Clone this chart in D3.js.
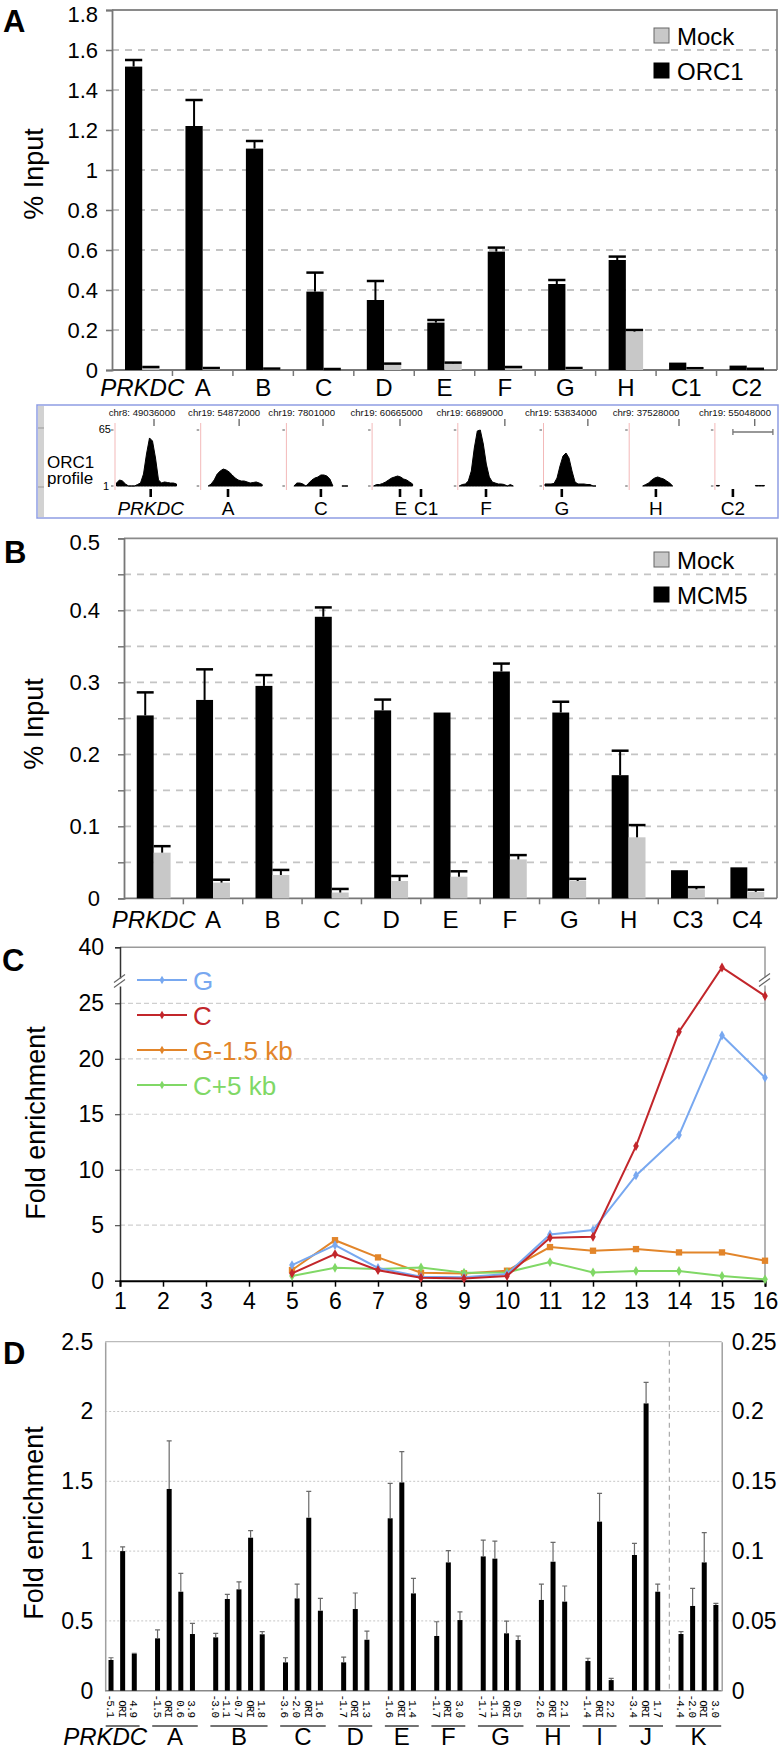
<!DOCTYPE html>
<html><head><meta charset="utf-8">
<script src="https://cdn.jsdelivr.net/npm/d3@7"></script>
<style>
body{margin:0;background:#fff}
svg{display:block}
text{font-family:"Liberation Sans",Arial,Helvetica,sans-serif}
</style></head>
<body><svg id="c" width="781" height="1757"></svg>
<script>
// ================= DATA =================
// Panel A (ORC1 ChIP, % input)
const catsA = ["PRKDC","A","B","C","D","E","F","G","H","C1","C2"];
const orc1A = [1.517,1.22,1.107,0.392,0.35,0.237,0.592,0.43,0.55,0.037,0.022];
const orc1ErrA = [0.033,0.13,0.038,0.095,0.095,0.013,0.02,0.02,0.017,0,0];
const mockA = [0.013,0.008,0.005,0.003,0.03,0.033,0.013,0.008,0.192,0.008,0.005];
const mockErrA = [0.002,0.002,0.002,0.002,0.002,0.004,0.002,0.002,0.008,0.001,0.001];
const yTicksA = [0,0.2,0.4,0.6,0.8,1,1.2,1.4,1.6,1.8];

// Genome browser strip (ORC1 profile, signal 1–65)
const stripRegions = ["chr8: 49036000","chr19: 54872000","chr19: 7801000","chr19: 60665000","chr19: 6689000","chr19: 53834000","chr9: 37528000","chr19: 55048000"];
const stripHeaderTick = [12.5,12.3,11.7,8.8,15.2,14.3,16.1,12.8];
const stripHeaderLabel = [8.5,7.3,4.6,4.3,3.5,5.3,5.1,6.2];
const stripProfiles = [
  [4.4,7.9,6.7,3.3,1,1,1,2.7,4.4,14.7,37.6,55.9,52.4,33,7.9,4.4,5.6,5,4.4,4.4,3.3],
  [null,null,1,3.3,7.9,14.7,18.1,20.4,19.3,17,13.6,10.1,7.9,6.7,6.7,5.6,4.4,5,5.6,4.4,2.7],
  [null,null,1,4.4,4.4,3.3,1,4.4,7.9,10.1,11.3,13.6,13.6,12.4,9,1,null,null,1,1,1],
  [1,2.7,2.7,3.9,5.6,7.9,10.1,11.3,12.4,11.3,9,7.9,5.6,3.3,null,null,null,null,1],
  [1,2.7,3.3,6.7,18.1,44.4,63.9,65,49,26.1,11.3,5.6,4.4,3.3,3.3,2.7,1,2.7,1],
  [3.3,3.3,3.3,3.9,10.1,23.9,35.3,38.7,33,18.1,5.6,3.3,3.3,3.3,2.7,2.7,1,1],
  [null,null,null,null,1,2.7,4.4,7.9,10.1,11.3,10.1,9,6.7,4.4,1],
  [1.6,1.6,null,null,null,null,null,null,null,null,null,null,null,1.6,1.6,1.6,1.6]
];
const stripGenes = ["PRKDC","A","C","E","C1","F","G","H","C2"];
const stripGeneRegion = [0,1,2,3,3,4,5,6,7];
const stripGenePos = [11.4,8.6,11.0,8.8,15.8,8.9,5.6,8.4,5.5];
const stripGeneLabelPos = [11.4,8.6,11.0,9.1,17.5,8.9,5.6,8.4,5.5];

// Panel B (MCM5 ChIP, % input)
const catsB = ["PRKDC","A","B","C","D","E","F","G","H","C3","C4"];
const mcm5B = [0.254,0.2755,0.295,0.391,0.261,0.258,0.315,0.258,0.171,0.039,0.043];
const mcm5ErrB = [0.032,0.0425,0.015,0.013,0.015,0,0.011,0.015,0.034,0,0];
const mockB = [0.0634,0.0218,0.0324,0.008,0.024,0.030,0.054,0.024,0.0847,0.0125,0.009];
const mockErrB = [0.009,0.004,0.007,0.005,0.007,0.0075,0.006,0.003,0.017,0.003,0.003];
const yTicksB = [0,0.05,0.1,0.15,0.2,0.25,0.3,0.35,0.4,0.45,0.5];

// Panel C (fold enrichment, lines)
const xLabelsC = ["1","2","3","4","5","6","7","8","9","10","11","12","13","14","15","16"];
const seriesNamesC = ["G","C","G-1.5 kb","C+5 kb"];
const valsG   = [null,null,null,null,1.41,3.2,1.15,0.35,0.3,0.6,4.17,4.56,9.49,13.12,22.1,18.3];
const valsC   = [null,null,null,null,0.66,2.4,0.95,0.27,0.2,0.42,3.87,3.96,12.13,22.43,34.6,26.96];
const valsG15 = [null,null,null,null,0.96,3.65,2.1,0.72,0.66,0.9,3.03,2.7,2.85,2.55,2.55,1.8];
const valsC5  = [null,null,null,null,0.42,1.17,1.05,1.2,0.72,0.75,1.68,0.75,0.87,0.87,0.42,0.12];
const yTicksC = [0,5,10,15,20,25,40];

// Panel D (fold enrichment, grouped bars)
const groupsD = ["PRKDC","A","B","C","D","E","F","G","H","I","J","K"];
const primersD = [["-5.1","ORI","4.9"],["-1.5","ORI","0.6","3.9"],["-3.0","-1.1","-0.7","ORI","1.8"],["-3.6","-2.0","ORI","1.6"],["-1.7","ORI","1.3"],["-1.6","ORI","1.4"],["-1.7","ORI","3.0"],["-1.7","-1.1","ORI","0.5"],["-2.6","ORI","2.1"],["-1.4","ORI","2.2"],["-3.4","ORI","1.7"],["-4.4","-2.0","ORI","3.0"]];
const valuesD = [[0.22,1.0,0.263],[0.375,1.445,0.709,0.406],[0.382,0.657,0.726,1.096,0.404],[0.203,0.661,1.239,0.573],[0.203,0.585,0.365],[1.235,1.492,0.697],[0.392,0.919,0.506],[0.962,0.946,0.411,0.363],[0.65,0.924,0.638],[0.2125,1.211,0.076],[0.972,2.058,0.709],[0.0406,0.0607,0.0919,0.0614]];
const errorsD = [[0.016,0.03,0.004],[0.06,0.345,0.131,0.076],[0.028,0.033,0.054,0.05,0.019],[0.033,0.103,0.189,0.088],[0.038,0.115,0.062],[0.25,0.22,0.108],[0.102,0.084,0.058],[0.117,0.126,0.088,0.029],[0.114,0.139,0.112],[0.02,0.203,0.012],[0.083,0.151,0.055],[0.0017,0.0126,0.0213,0.0012]];
const rightAxisGroupsD = ["K"];
const yTicksDL = [0,0.5,1,1.5,2,2.5];
const yTicksDR = [0,0.05,0.1,0.15,0.2,0.25];

// ================= DRAW =================
const svg = d3.select("#c");
const fmt = d => String(+d.toFixed(3));
const FONT = '"Liberation Sans",Arial,sans-serif';

function panelLetter(t, x, y){
  svg.append("text").attr("x",x).attr("y",y).text(t)
    .attr("font-size",31).attr("font-weight","bold").attr("fill","#000");
}

function barPanel(o){
  const g = svg.append("g");
  const x = d3.scaleBand().domain(o.cats).range([o.left,o.right]);
  const y = d3.scaleLinear().domain([0,o.yMax]).range([o.bottom,o.top]);
  const bw = x.bandwidth();
  g.selectAll(null).data(o.ticks.filter(t=>t>0 && t<o.yMax)).join("line")
    .attr("x1",o.left).attr("x2",o.right).attr("y1",d=>y(d)).attr("y2",d=>y(d))
    .attr("stroke","#c4c4c4").attr("stroke-width",1.8).attr("stroke-dasharray","7,6");
  g.append("path").attr("d",`M${o.left},${o.top}H${o.right}V${o.bottom}`)
    .attr("fill","none").attr("stroke","#8a8a8a").attr("stroke-width",1.8);
  const ya = g.append("g").attr("transform",`translate(${o.left},0)`)
    .call(d3.axisLeft(y).tickValues(o.ticks).tickSize(6).tickPadding(o.pad)
      .tickFormat(d => o.labelIf(d) ? fmt(d) : ""));
  ya.select(".domain").attr("stroke","#777").attr("stroke-width",1.8);
  ya.selectAll(".tick line").attr("stroke","#777").attr("stroke-width",1.5);
  ya.selectAll(".tick text").attr("font-size",22).attr("fill","#000").style("font-family",FONT)
    .attr("dy",d => d===o.yMax ? "0.5em" : "0.34em");
  g.append("line").attr("x1",o.left).attr("x2",o.right).attr("y1",o.bottom).attr("y2",o.bottom)
    .attr("stroke","#777").attr("stroke-width",1.8);
  g.selectAll(null).data(o.cats.slice(1)).join("line")
    .attr("x1",d=>x(d)).attr("x2",d=>x(d)).attr("y1",o.bottom).attr("y2",o.bottom+6)
    .attr("stroke","#777").attr("stroke-width",1.5);
  g.selectAll(null).data(o.cats).join("text")
    .attr("x",d=>x(d)+bw/2).attr("y",o.labelY).attr("text-anchor","middle")
    .attr("font-size",24).attr("font-style",d=>d==="PRKDC"?"italic":"normal").text(d=>d);
  const bW = bw*0.285, off = bw*0.215;
  const series = [
    {vals:o.main, errs:o.mainErr, fill:"#000", dx:off},
    {vals:o.mock, errs:o.mockErr, fill:"#c8c8c8", dx:off+bW}
  ];
  series.forEach(s=>{
    g.selectAll(null).data(o.cats).join("rect")
      .attr("x",(d)=>x(d)+s.dx).attr("width",bW)
      .attr("y",(d,i)=>y(s.vals[i])).attr("height",(d,i)=>y(0)-y(s.vals[i]))
      .attr("fill",s.fill);
    o.cats.forEach((c,i)=>{
      const e = s.errs[i]; if(!e) return;
      const cx = x(c)+s.dx+bW/2, y0=y(s.vals[i]), y1=y(s.vals[i]+e);
      g.append("line").attr("x1",cx).attr("x2",cx).attr("y1",y0).attr("y2",y1)
        .attr("stroke","#000").attr("stroke-width",2);
      g.append("line").attr("x1",cx-bW/2).attr("x2",cx+bW/2).attr("y1",y1).attr("y2",y1)
        .attr("stroke","#000").attr("stroke-width",2.5);
    });
  });
  const lg = g.append("g");
  o.legend.forEach((l,i)=>{
    lg.append("rect").attr("x",654).attr("y",o.legendY+i*35).attr("width",15).attr("height",15)
      .attr("fill",l.fill).attr("stroke",i===0?"#666":"#000").attr("stroke-width",1);
    lg.append("text").attr("x",677).attr("y",o.legendY+i*35+16.5).attr("font-size",24).text(l.name);
  });
  g.append("text").attr("transform",`translate(43,${o.titleY}) rotate(-90)`)
    .attr("text-anchor","middle").attr("font-size",27).text("% Input");
}

// ---------- Panel A ----------
panelLetter("A",3,32);
barPanel({cats:catsA,left:112,right:777,top:10,bottom:370,yMax:1.8,ticks:yTicksA,
  labelIf:()=>true,pad:8,labelY:396,
  main:orc1A,mainErr:orc1ErrA,mock:mockA,mockErr:mockErrA,
  legend:[{name:"Mock",fill:"#c8c8c8"},{name:"ORC1",fill:"#000"}],legendY:28,titleY:174});

// ---------- Genome strip ----------
(function(){
  const g = svg.append("g");
  const boxL=37, boxR=778, boxT=405, boxB=518;
  g.append("rect").attr("x",boxL).attr("y",boxT).attr("width",boxR-boxL).attr("height",boxB-boxT)
    .attr("fill","#fff").attr("stroke","#8e9de3").attr("stroke-width",1.5);
  g.append("rect").attr("x",boxL+1).attr("y",boxT+1).attr("width",6).attr("height",boxB-boxT-2).attr("fill","#d2d2d2");
  g.append("line").attr("x1",boxL+1).attr("x2",boxL+7).attr("y1",428).attr("y2",428).attr("stroke","#999");
  g.append("line").attr("x1",boxL+1).attr("x2",boxL+7).attr("y1",487).attr("y2",487).attr("stroke","#999");
  g.append("clipPath").attr("id","stripClip").append("rect")
    .attr("x",boxL+8).attr("y",boxT).attr("width",boxR-boxL-9).attr("height",boxB-boxT);
  const inner = g.append("g").attr("clip-path","url(#stripClip)");
  const band = d3.scaleBand().domain(d3.range(stripRegions.length)).range([115,115+8*85.7]);
  const sx = d3.scaleLinear().domain([0,1]).range([1.5,4.5]);
  const sy = d3.scaleLinear().domain([1,65]).range([486,430]);
  stripRegions.forEach((name,r)=>{
    const x0 = band(r);
    inner.append("line").attr("x1",x0).attr("x2",x0).attr("y1",423).attr("y2",490)
      .attr("stroke","#f3b9b9").attr("stroke-width",1);
    [65,1].forEach(v=>inner.append("line").attr("x1",x0-4).attr("x2",x0-1.5)
      .attr("y1",sy(v)).attr("y2",sy(v)).attr("stroke","#555").attr("stroke-width",1));
    inner.append("text").attr("x",x0+sx(stripHeaderLabel[r])).attr("y",416)
      .attr("text-anchor","middle").attr("font-size",9.6).attr("fill","#111").text(name);
    inner.append("line").attr("x1",x0+sx(stripHeaderTick[r])).attr("x2",x0+sx(stripHeaderTick[r]))
      .attr("y1",419).attr("y2",426).attr("stroke","#333").attr("stroke-width",1);
    const area = d3.area().defined(d=>d!=null)
      .x((d,i)=>x0+sx(i)).y0(sy(1)).y1(d=>sy(d)).curve(d3.curveLinear);
    inner.append("path").datum(stripProfiles[r]).attr("d",area)
      .attr("fill","#000").attr("stroke","#000").attr("stroke-width",1);
  });
  const sb0 = band(7)+18, sb1 = band(7)+58;
  inner.append("path").attr("d",`M${sb0},429V435M${sb0},432H${sb1}M${sb1},429V435`)
    .attr("stroke","#777").attr("stroke-width",1.3).attr("fill","none");
  stripGenes.forEach((gn,i)=>{
    const x0 = band(stripGeneRegion[i]);
    const gx = x0+sx(stripGenePos[i]), lx = x0+sx(stripGeneLabelPos[i]);
    inner.append("line").attr("x1",gx).attr("x2",gx).attr("y1",489).attr("y2",497)
      .attr("stroke","#000").attr("stroke-width",2.6);
    inner.append("text").attr("x",lx).attr("y",515).attr("text-anchor","middle")
      .attr("font-size",19).attr("font-style",gn==="PRKDC"?"italic":"normal").text(gn);
  });
  g.append("text").attr("x",47).attr("y",468).attr("font-size",17).text("ORC1");
  g.append("text").attr("x",47).attr("y",484).attr("font-size",17).text("profile");
  g.append("text").attr("x",111).attr("y",sy(65)+3).attr("text-anchor","end").attr("font-size",11).text("65");
  g.append("text").attr("x",109).attr("y",sy(1)+4).attr("text-anchor","end").attr("font-size",11).text("1");
})();

// ---------- Panel B ----------
panelLetter("B",4,563);
barPanel({cats:catsB,left:124,right:777,top:538.3,bottom:898.3,yMax:0.5,ticks:yTicksB,
  labelIf:d=>Math.abs(d*10-Math.round(d*10))<1e-6,pad:18,labelY:928,
  main:mcm5B,mainErr:mcm5ErrB,mock:mockB,mockErr:mockErrB,
  legend:[{name:"Mock",fill:"#c8c8c8"},{name:"MCM5",fill:"#000"}],legendY:552,titleY:724});

// ---------- Panel C ----------
(function(){
  panelLetter("C",2,971);
  const g = svg.append("g");
  const L=120,R=765,T=947.3,B=1280.7;
  const x = d3.scalePoint().domain(xLabelsC).range([L,R]);
  const y = d3.scaleLinear().domain([0,25,40]).range([B, B-5*55.48, T]);
  g.selectAll(null).data([5,10,15,20,25]).join("line")
    .attr("x1",L).attr("x2",R).attr("y1",d=>y(d)).attr("y2",d=>y(d))
    .attr("stroke","#cfcfcf").attr("stroke-width",1.2).attr("stroke-dasharray","5,3");
  g.append("path").attr("d",`M${L},${T}H${R}V${B}`).attr("fill","none").attr("stroke","#9a9a9a").attr("stroke-width",1.5);
  const ya = g.append("g").attr("transform",`translate(${L},0)`)
    .call(d3.axisLeft(y).tickValues(yTicksC).tickSize(5).tickPadding(11).tickFormat(d=>String(d)));
  ya.select(".domain").attr("stroke","#333").attr("stroke-width",1.5);
  ya.selectAll(".tick line").attr("stroke","#333");
  ya.selectAll(".tick text").attr("font-size",23).attr("fill","#000").style("font-family",FONT);
  const xa = g.append("g").attr("transform",`translate(0,${B})`)
    .call(d3.axisBottom(x).tickSize(6).tickPadding(6));
  xa.select(".domain").attr("stroke","#000").attr("stroke-width",2);
  xa.selectAll(".tick line").attr("stroke","#000").attr("stroke-width",1.5);
  xa.selectAll(".tick text").attr("font-size",23).attr("fill","#000").style("font-family",FONT);
  [[L,982.5],[R,981.5]].forEach(([bx,by])=>{
    g.append("rect").attr("x",bx-6).attr("y",by-4).attr("width",12).attr("height",8).attr("fill","#fff");
    g.append("path").attr("d",`M${bx-6},${by}l11,-8M${bx-6},${by+5}l11,-8`).attr("stroke","#666").attr("stroke-width",1.2);
  });
  const series = [
    {name:seriesNamesC[0],vals:valsG,color:"#78a8f0",sym:d3.symbolDiamond,size:28},
    {name:seriesNamesC[1],vals:valsC,color:"#c2262b",sym:d3.symbolDiamond,size:28},
    {name:seriesNamesC[2],vals:valsG15,color:"#e2852a",sym:d3.symbolSquare,size:40},
    {name:seriesNamesC[3],vals:valsC5,color:"#80d866",sym:d3.symbolDiamond,size:28}
  ];
  const line = d3.line().defined(d=>d.v!=null).x(d=>x(d.k)).y(d=>y(d.v));
  [2,3,0,1].forEach(si=>{
    const s = series[si];
    const pts = xLabelsC.map((k,i)=>({k,v:s.vals[i]}));
    g.append("path").datum(pts).attr("d",line).attr("fill","none").attr("stroke",s.color).attr("stroke-width",2);
    g.selectAll(null).data(pts.filter(p=>p.v!=null)).join("path")
      .attr("transform",p=>`translate(${x(p.k)},${y(p.v)})`)
      .attr("d",d3.symbol(s.sym,s.size)).attr("fill",s.color);
  });
  series.forEach((s,i)=>{
    const ly = 980 + i*35;
    g.append("line").attr("x1",137).attr("x2",187).attr("y1",ly).attr("y2",ly).attr("stroke",s.color).attr("stroke-width",2);
    g.append("path").attr("transform",`translate(162,${ly})`).attr("d",d3.symbol(d3.symbolDiamond,22)).attr("fill",s.color);
    g.append("text").attr("x",193).attr("y",ly+9.5).attr("font-size",26).attr("fill",s.color).text(s.name);
  });
  g.append("text").attr("transform",`translate(45,1123) rotate(-90)`).attr("text-anchor","middle")
    .attr("font-size",27).text("Fold enrichment");
})();

// ---------- Panel D ----------
(function(){
  panelLetter("D",3,1364);
  const g = svg.append("g");
  const L=105.2,R=721.7,T=1341.7,B=1690.7;
  const slots = [];
  groupsD.forEach((gr,gi)=>{
    primersD[gi].forEach((p,pi)=>slots.push({key:gr+"|"+pi,gi,pi}));
    if(gi<groupsD.length-1) slots.push({key:"gap"+gi,gi:-1});
  });
  const x = d3.scaleBand().domain(slots.map(s=>s.key)).range([L,R]);
  const yL = d3.scaleLinear().domain([0,2.5]).range([B,T]);
  const yR = d3.scaleLinear().domain([0,0.25]).range([B,T]);
  const bw = x.bandwidth();
  g.selectAll(null).data([0.5,1,1.5,2]).join("line")
    .attr("x1",L).attr("x2",R).attr("y1",d=>yL(d)).attr("y2",d=>yL(d))
    .attr("stroke","#c6c6c6").attr("stroke-width",1).attr("stroke-dasharray","2,2");
  g.append("line").attr("x1",L).attr("x2",R).attr("y1",T).attr("y2",T).attr("stroke","#bbb").attr("stroke-width",1.2);
  const yal = g.append("g").attr("transform",`translate(${L},0)`)
    .call(d3.axisLeft(yL).tickValues(yTicksDL).tickSize(0).tickPadding(12).tickFormat(fmt));
  yal.select(".domain").attr("stroke","#a0a0a0").attr("stroke-width",1.5);
  yal.selectAll(".tick text").attr("font-size",23).attr("fill","#000").style("font-family",FONT);
  const yar = g.append("g").attr("transform",`translate(${R},0)`)
    .call(d3.axisRight(yR).tickValues(yTicksDR).tickSize(0).tickPadding(10).tickFormat(fmt));
  yar.select(".domain").attr("stroke","#a0a0a0").attr("stroke-width",1.5);
  yar.selectAll(".tick text").attr("font-size",23).attr("fill","#000").style("font-family",FONT);
  g.append("line").attr("x1",L).attr("x2",R).attr("y1",B).attr("y2",B).attr("stroke","#888").attr("stroke-width",1.5);
  const sepKey = "gap"+(groupsD.length-2);
  const sx = x(sepKey)+bw/2;
  g.append("line").attr("x1",sx).attr("x2",sx).attr("y1",T).attr("y2",B)
    .attr("stroke","#aaa").attr("stroke-width",1.2).attr("stroke-dasharray","5,4");
  const barSlots = slots.filter(s=>s.gi>=0);
  const ys = s => rightAxisGroupsD.includes(groupsD[s.gi]) ? yR : yL;
  g.selectAll(null).data(barSlots).join("rect")
    .attr("x",s=>x(s.key)+bw/2-2.5).attr("width",5)
    .attr("y",s=>ys(s)(valuesD[s.gi][s.pi]))
    .attr("height",s=>B-ys(s)(valuesD[s.gi][s.pi])).attr("fill","#000");
  barSlots.forEach(s=>{
    const sc = ys(s), v = valuesD[s.gi][s.pi], e = errorsD[s.gi][s.pi];
    const cx = x(s.key)+bw/2;
    g.append("path").attr("d",`M${cx},${sc(v)}V${sc(v+e)}M${cx-2.5},${sc(v+e)}H${cx+2.5}`)
      .attr("stroke","#6a6a6a").attr("stroke-width",1.2).attr("fill","none");
  });
  // primer labels (rotated, reading top to bottom, aligned at bottom)
  g.selectAll(null).data(barSlots).join("text")
    .attr("transform",s=>`translate(${x(s.key)+bw/2-4},1717) rotate(90)`)
    .attr("text-anchor","end").attr("font-size",11)
    .style("font-family",'"Liberation Mono","DejaVu Sans Mono",monospace').attr("letter-spacing",-1)
    .text(s=>primersD[s.gi][s.pi]);
  groupsD.forEach((gr,gi)=>{
    const first = x(gr+"|0"), last = x(gr+"|"+(primersD[gi].length-1))+bw;
    g.append("line").attr("x1",first+0.5).attr("x2",last-0.5).attr("y1",1726).attr("y2",1726)
      .attr("stroke","#444").attr("stroke-width",1.5);
    const cx = gi===0 ? first : (first+last)/2;
    g.append("text").attr("x",cx).attr("y",1745).attr("text-anchor","middle").attr("font-size",24)
      .attr("font-style",gr==="PRKDC"?"italic":"normal").text(gr);
  });
  g.append("text").attr("transform",`translate(43,1523) rotate(-90)`).attr("text-anchor","middle")
    .attr("font-size",27).text("Fold enrichment");
})();
</script></body></html>
